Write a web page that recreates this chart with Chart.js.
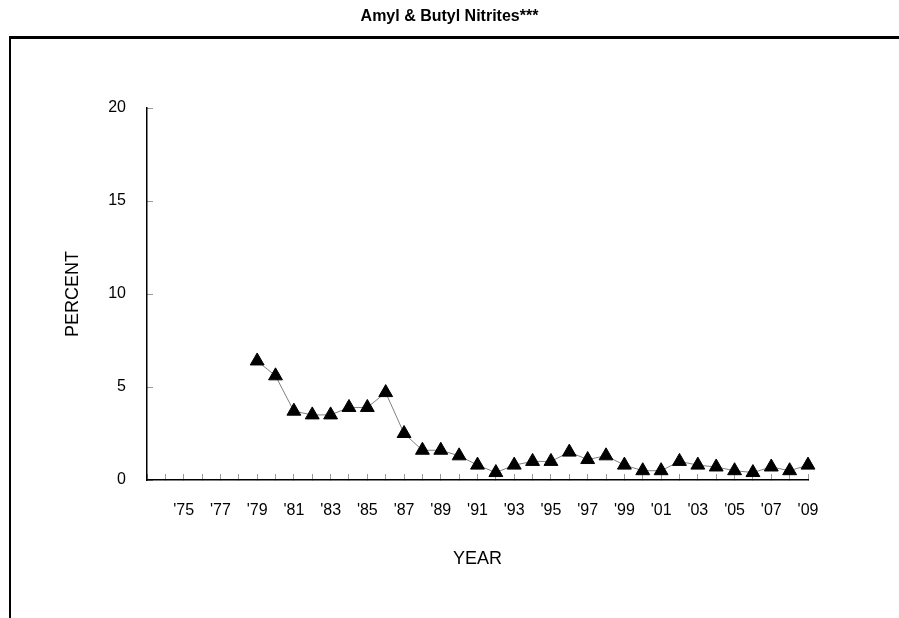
<!DOCTYPE html>
<html>
<head>
<meta charset="utf-8">
<script src="https://cdn.jsdelivr.net/npm/chart.js@4"></script>
<style>
  html, body { margin: 0; padding: 0; background: #fff; overflow: hidden; }
  #wrap { position: relative; width: 899px; height: 618px; }
  #frame { position: absolute; left: 9px; top: 36px; width: 1000px; height: 700px;
           border-top: 3px solid #000; border-left: 2px solid #000; z-index: 0; }
  canvas { position: absolute; left: 0; top: 0; z-index: 1; }
</style>
</head>
<body>
<div id="wrap">
  <div id="frame"></div>
  <canvas id="c" width="899" height="618"></canvas>
</div>
<script>
const chartTitle = "Amyl & Butyl Nitrites***";
const years = [1973,1974,1975,1976,1977,1978,1979,1980,1981,1982,1983,1984,1985,1986,1987,1988,1989,1990,1991,1992,1993,1994,1995,1996,1997,1998,1999,2000,2001,2002,2003,2004,2005,2006,2007,2008,2009];
const percentValues = [null,null,null,null,null,null,6.4,5.6,3.7,3.5,3.5,3.9,3.9,4.7,2.5,1.6,1.6,1.3,0.8,0.4,0.8,1.0,1.0,1.5,1.1,1.3,0.8,0.5,0.5,1.0,0.8,0.7,0.5,0.4,0.7,0.5,0.8];
const yTicks = [0, 5, 10, 15, 20];
const xTitle = "YEAR";
const yTitle = "PERCENT";

const FONT = "'Liberation Sans', Arial, sans-serif";

const titlePlugin = {
  id: 'centerTitle',
  afterDraw(chart) {
    const ctx = chart.ctx;
    ctx.save();
    ctx.font = "bold 16px " + FONT;
    ctx.fillStyle = '#000';
    ctx.textAlign = 'center';
    ctx.textBaseline = 'middle';
    ctx.fillText(chartTitle, chart.width / 2, 17);
    ctx.restore();
  }
};

new Chart(document.getElementById('c'), {
  type: 'line',
  data: {
    labels: years,
    datasets: [{
      data: percentValues,
      borderColor: '#808080',
      borderWidth: 1,
      pointStyle: 'triangle',
      pointRadius: 8,
      pointHoverRadius: 8,
      pointBackgroundColor: '#000',
      pointBorderColor: '#000',
      pointBorderWidth: 1,
      spanGaps: false,
      tension: 0
    }]
  },
  plugins: [titlePlugin],
  options: {
    responsive: false,
    animation: false,
    events: [],
    layout: { padding: { left: 0, right: 91, top: 108, bottom: 0 } },
    plugins: {
      legend: { display: false },
      tooltip: { enabled: false },
      title: { display: false }
    },
    scales: {
      x: {
        type: 'category',
        offset: false,
        afterFit: s => { s.height = 138; },
        border: { display: true, color: '#000', width: 1.5 },
        grid: { display: true, drawOnChartArea: false, drawTicks: true, tickLength: -6, color: '#999', lineWidth: 1 },
        ticks: {
          autoSkip: false, maxRotation: 0, minRotation: 0,
          padding: 27, color: '#000',
          font: { family: FONT, size: 16 },
          callback: function(v, i) {
            const y = years[i];
            return (y >= 1975 && y % 2 === 1) ? "'" + String(y).slice(2) : '';
          }
        },
        title: { display: true, text: xTitle, color: '#000', font: { family: FONT, size: 18 }, padding: { top: 0, bottom: 48 } }
      },
      y: {
        min: 0, max: 20,
        afterFit: s => { s.width = 147; },
        afterBuildTicks: s => { s.ticks = yTicks.map(v => ({ value: v })); },
        border: { display: true, color: '#000', width: 1.5 },
        grid: { display: true, drawOnChartArea: false, drawTicks: true, tickLength: -6, color: '#999', lineWidth: 1 },
        ticks: { padding: 27, color: '#000', font: { family: FONT, size: 16 } },
        title: { display: true, text: yTitle, color: '#000', font: { family: FONT, size: 18 }, padding: { top: 62, bottom: 0 } }
      }
    }
  }
});
</script>
</body>
</html>
